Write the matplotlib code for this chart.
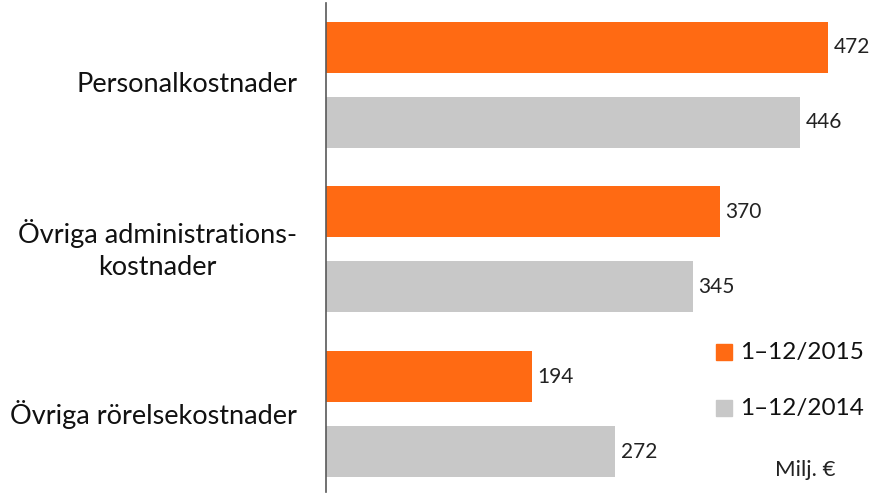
import numpy as np
import matplotlib.pyplot as plt
from matplotlib.patches import Rectangle

categories = ["Personalkostnader", "Övriga administrations-\nkostnader", "Övriga rörelsekostnader"]
series_names = ["1–12/2015", "1–12/2014"]
values_2015 = [472, 370, 194]
values_2014 = [446, 345, 272]
colors = ["#FF6A13", "#C8C8C8"]

plt.rcParams['font.family'] = ['Lato', 'DejaVu Sans']

W, H = 876, 494
fig = plt.figure(figsize=(W / 100, H / 100), dpi=100)
ax = fig.add_axes([326 / W, 1 - 492 / H, 550 / W, 489 / H])

# pixel-like y units, top to bottom
centers = 84.75 + np.arange(len(categories)) * 164.75
h = 51
ax.barh(centers - 37.5, values_2015, height=h, color=colors[0])
ax.barh(centers + 37.5, values_2014, height=h, color=colors[1])

for yc, v in zip(centers - 37.5, values_2015):
    ax.text(v + 5, yc, str(v), va='center', ha='left', fontsize=15, color='#222222')
for yc, v in zip(centers + 37.5, values_2014):
    ax.text(v + 5, yc, str(v), va='center', ha='left', fontsize=15, color='#222222')

ax.set_xlim(0, 550 / 1.0636)
ax.set_ylim(492, 3)
ax.set_yticks([])
ax.set_xticks([])
for s in ['top', 'right', 'bottom']:
    ax.spines[s].set_visible(False)
ax.spines['left'].set_color('#595959')
ax.spines['left'].set_linewidth(1.2)

for yc, cat in zip(centers, categories):
    ax.text(-27, yc, cat, ha='right', va='center', multialignment='center',
            fontsize=19.5, color='#111111', linespacing=1.35)

# legend drawn by hand to sit where the reference has it
for i, (name, c) in enumerate(zip(series_names, colors)):
    y = 352 + i * 56
    fig.patches.append(Rectangle((716 / W, 1 - (y + 8) / H), 16 / W, 16 / H,
                                 transform=fig.transFigure, color=c))
    fig.text(740 / W, 1 - y / H, name, ha='left', va='center', fontsize=17.5, color='#111111')

fig.text(775 / W, 1 - 470 / H, "Milj. €", ha='left', va='center', fontsize=16, color='#222222')

fig.savefig("out.png", dpi=100)
